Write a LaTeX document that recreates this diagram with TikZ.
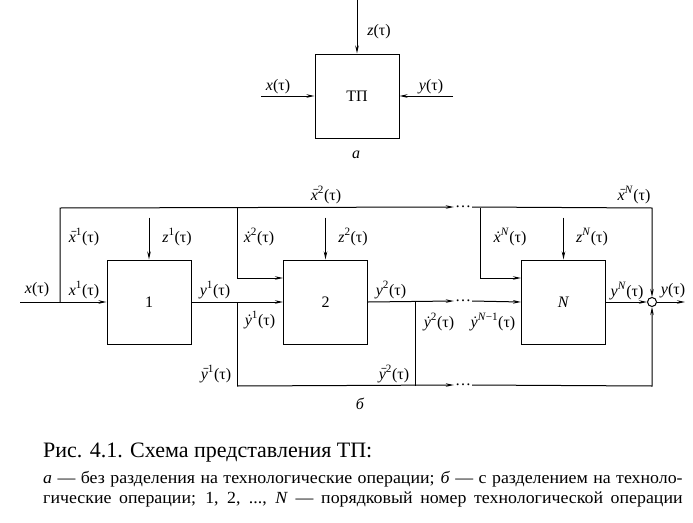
\documentclass[tikz,border=0pt]{standalone}
\usepackage{fontspec}
\usepackage{graphicx}
\setmainfont{Liberation Serif}
\usetikzlibrary{arrows.meta,positioning}
\tikzset{
  opbox/.style={draw, line width=1pt, minimum width=84pt, minimum height=84pt, inner sep=0pt, font=\fontsize{16}{18}\selectfont},
  sig/.style={font=\fontsize{16}{18}\selectfont, inner sep=1pt},
  flow/.style={line width=1pt, -{Stealth[length=8pt,width=3.5pt]}},
  wire/.style={line width=1pt},
  gap/.style={font=\fontsize{16}{18}\selectfont, inner sep=1pt},
  capline/.style={anchor=base west, inner sep=0pt, font=\fontsize{17}{19}\selectfont},
}
\newcommand{\tsig}[2]{\textit{#1}\textsuperscript{#2}(τ)}
\newcommand{\barred}[1]{\ooalign{\textit{#1}\cr\hidewidth\kern0.12em\raisebox{-0.1em}{\scalebox{0.6}[1]{¯}}\hidewidth\cr}}
\begin{document}
\begin{tikzpicture}[x=1pt, y=-1pt]
    \useasboundingbox (0,0) rectangle (693,522);
    % Scheme a
    \node[opbox] (tp) at (357,96) {ТП};
    \coordinate (xin) at (261,96);
    \coordinate (yin) at (453,96);
    \draw[flow] ([yshift=55pt]tp.north) -- (tp.north);
    \draw[flow] (xin) -- (tp.west);
    \draw[flow] (yin) -- (tp.east);
    \node[sig] (lz) at (379,32) {\textit{z}(τ)};
    \node[sig] (lx) at (278,87) {\textit{x}(τ)};
    \node[sig] (ly) at (431,87) {\textit{y}(τ)};
    \node[sig] (la) at (356,155) {\textit{a}};
    % Scheme b: operations
    \node[opbox] (op1) at (149,302) {1};
    \node[opbox] (op2) at (325.5,302) {2};
    \node[opbox] (opN) at (563.5,302) {\textit{N}};
    \node[draw, circle, line width=1pt, minimum size=9pt, inner sep=0pt] (sum) at (652,302) {};
    % Gaps
    \node[gap] (tdots) at (463,207) {…};
    \node[gap] (mdots) at (463,301) {…};
    \node[gap] (bdots) at (463,385) {…};
    % Corner points
    \coordinate (in) at (20,302);
    \coordinate (out) at (685,302);
    \coordinate (j0) at (60,302);
    \coordinate (t0) at (60,208);
    \coordinate (t2) at (237,208);
    \coordinate (tN) at (480,208);
    \coordinate (te) at (652,208);
    \coordinate (j1) at (237,302);
    \coordinate (b1) at (237,386);
    \coordinate (j2) at (415,302);
    \coordinate (b2) at (415,386);
    \coordinate (be) at (652,386);
    % Main line
    \draw[flow] (in) -- (op1.west);
    \draw[flow] (op1.east) -- (op2.west);
    \draw[flow] (op2.east) -- (mdots.west);
    \draw[flow] (mdots.east) -- (opN.west);
    \draw[flow] (opN.east) -- (sum.west);
    \draw[flow] (sum.east) -- (out);
    % Top bypass
    \draw[flow] (j0) -- (t0) -- (tdots.west);
    \draw[flow] (tdots.east) -- (te) -- (sum.north);
    \draw[flow] (t2) |- ([yshift=24pt]op2.west);
    \draw[flow] (tN) |- ([yshift=24pt]opN.west);
    % Bottom bypass
    \draw[wire] (j1) -- (b1);
    \draw[wire] (j2) -- (b2);
    \draw[flow] (b1) -- (bdots.west);
    \draw[flow] (bdots.east) -- (be) -- (sum.south);
    % Disturbances
    \foreach \op in {op1, op2, opN}
    {   \draw[flow] ([yshift=42pt]\op.north) -- (\op.north);}
    % Labels
    \node[sig] (lx0) at (37,290) {\textit{x}(τ)};
    \node[sig] (lx1) at (84,290) {\tsig{x}{1}};
    \node[sig] (lxb1) at (84,237) {\tsig{\barred{x}}{1}};
    \node[sig] (lz1) at (177,237) {\tsig{z}{1}};
    \node[sig] (ly1) at (215,290) {\tsig{y}{1}};
    \node[sig] (lxd2) at (259,237) {\tsig{ẋ}{2}};
    \node[sig] (lyd1) at (260,320) {\tsig{ẏ}{1}};
    \node[sig] (lyb1) at (216,374) {\tsig{\barred{y}}{1}};
    \node[sig] (lz2) at (353,237) {\tsig{z}{2}};
    \node[sig] (lxb2) at (326,195) {\tsig{\barred{x}}{2}};
    \node[sig] (ly2) at (391,290) {\tsig{y}{2}};
    \node[sig] (lyd2) at (439,322) {\tsig{ẏ}{2}};
    \node[sig] (lyb2) at (394,374) {\tsig{\barred{y}}{2}};
    \node[sig] (lydN) at (493,322) {\tsig{ẏ}{\textit{N}−1}};
    \node[sig] (lxdN) at (510,237) {\tsig{ẋ}{\textit{N}}};
    \node[sig] (lzN) at (592,237) {\tsig{z}{\textit{N}}};
    \node[sig] (lxbN) at (634,195) {\tsig{\barred{x}}{\textit{N}}};
    \node[sig] (lyN) at (627,291) {\tsig{y}{\textit{N}}};
    \node[sig] (ly) at (673,291) {\textit{y}(τ)};
    \node[sig] (lb) at (360,404) {\textit{б}};
    % Caption
    \node[capline, font=\fontsize{22}{24}\selectfont] (cap1) at (43,457) {Рис. 4.1. Схема представления ТП:};
    \node[capline] (cap2) at (43,483)
        {\scalebox{1.05}[1]{\makebox[609pt][s]{\textit{а} — без разделения на технологические операции; \textit{б} — с разделением на техноло-}}};
    \node[capline] (cap3) at (43,503)
        {\scalebox{1.05}[1]{\makebox[609pt][s]{гические операции; 1, 2, ..., \textit{N} — порядковый номер технологической операции}}};
\end{tikzpicture}
\end{document}
